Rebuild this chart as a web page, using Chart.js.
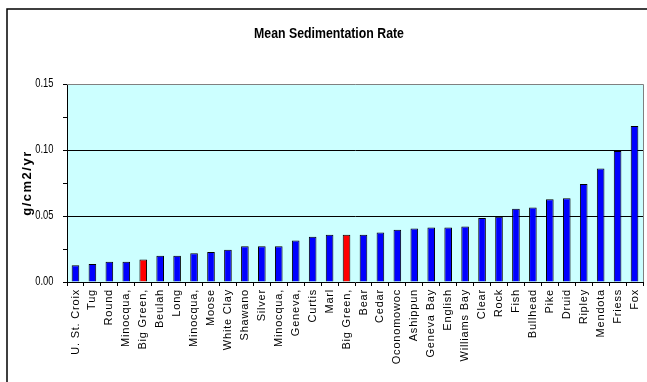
<!DOCTYPE html>
<html>
<head>
<meta charset="utf-8">
<script src="https://cdn.jsdelivr.net/npm/chart.js@4.4.1/dist/chart.umd.min.js"></script>
<style>
  html, body { margin: 0; padding: 0; background: #ffffff; }
  #wrap { width: 647px; height: 382px; }
</style>
</head>
<body>
<div id="wrap"><canvas id="chart" width="647" height="382"></canvas></div>
<script>
// Lakes, ordered by mean sedimentation rate
const lakes = [
  'U. St. Croix', 'Tug', 'Round', 'Minocqua,', 'Big Green,', 'Beulah', 'Long',
  'Minocqua,', 'Moose', 'White Clay', 'Shawano', 'Silver', 'Minocqua,', 'Geneva,',
  'Curtis', 'Marl', 'Big Green,', 'Bear', 'Cedar', 'Oconomowoc', 'Ashippun',
  'Geneva Bay', 'English', 'Williams Bay', 'Clear', 'Rock', 'Fish', 'Bullhead',
  'Pike', 'Druid', 'Ripley', 'Mendota', 'Friess', 'Fox'
];

// Mean sedimentation rate, g/cm2/yr
const meanRate = [
  0.0126, 0.0136, 0.0154, 0.0154, 0.0171, 0.0199, 0.0199,
  0.0217, 0.0227, 0.0244, 0.0270, 0.0270, 0.0270, 0.0315,
  0.0343, 0.0358, 0.0358, 0.0358, 0.0375, 0.0395, 0.0406,
  0.0413, 0.0413, 0.0421, 0.0484, 0.0494, 0.0554, 0.0564,
  0.0627, 0.0635, 0.0743, 0.0859, 0.0992, 0.1181
];

// Labelled y ticks (minor marks fall halfway between them)
const yLabelledTicks = [0, 0.05, 0.10, 0.15];

const chartTitle = 'Mean Sedimentation Rate';
const yAxisTitle = 'g/cm2/yr';
const highlightLake = 'Big Green,';

const BLUE = '#0000FF';
const RED = '#FF0000';
const barColors = lakes.map(name => name === highlightLake ? RED : BLUE);

const isLabelled = v => yLabelledTicks.some(t => Math.abs(t - v) < 1e-9);
const isInnerGrid = v => isLabelled(v) && v > 1e-9 && v < 0.15 - 1e-9;

// Frame, plot background, titles and condensed y tick labels
const framePlugin = {
  id: 'frame',
  beforeDraw(chart) {
    const { ctx, chartArea: a, width, height } = chart;
    ctx.save();
    ctx.fillStyle = '#ffffff';
    ctx.fillRect(0, 0, width, height);
    ctx.fillStyle = '#CCFFFF';
    ctx.fillRect(a.left, a.top, a.right - a.left, a.bottom - a.top);
    ctx.strokeStyle = '#000000';
    ctx.lineWidth = 1.5;
    ctx.beginPath();
    ctx.moveTo(7, height);
    ctx.lineTo(7, 9);
    ctx.lineTo(width, 9);
    ctx.stroke();
    ctx.restore();
    // slightly spaced category labels
    ctx.letterSpacing = '0.8px';
  },
  beforeDatasetsDraw(chart) {
    chart.ctx.letterSpacing = '0px';
  },
  afterDraw(chart) {
    const { ctx, chartArea: a } = chart;
    const yScale = chart.scales.y;
    ctx.save();
    ctx.letterSpacing = '0px';
    // plot border, top and right
    ctx.strokeStyle = '#808080';
    ctx.lineWidth = 1;
    ctx.beginPath();
    ctx.moveTo(a.left, Math.round(a.top) + 0.5);
    ctx.lineTo(Math.round(a.right) + 0.5, Math.round(a.top) + 0.5);
    ctx.lineTo(Math.round(a.right) + 0.5, a.bottom);
    ctx.stroke();

    ctx.fillStyle = '#000000';
    ctx.textBaseline = 'middle';

    // y tick labels, condensed
    ctx.font = "12px 'Liberation Sans', Arial, sans-serif";
    ctx.textAlign = 'right';
    yLabelledTicks.forEach(v => {
      ctx.save();
      ctx.translate(53.5, yScale.getPixelForValue(v));
      ctx.scale(0.78, 1);
      ctx.fillText(v.toFixed(2), 0, 0);
      ctx.restore();
    });

    // chart title
    ctx.save();
    ctx.font = "bold 14px 'Liberation Sans', Arial, sans-serif";
    ctx.textAlign = 'center';
    ctx.translate(329, 34);
    ctx.scale(0.88, 1);
    ctx.fillText(chartTitle, 0, 0);
    ctx.restore();

    // y-axis title
    ctx.translate(27, (a.top + a.bottom) / 2);
    ctx.rotate(-Math.PI / 2);
    ctx.font = "bold 13px 'Liberation Sans', Arial, sans-serif";
    ctx.textAlign = 'center';
    ctx.letterSpacing = '1.5px';
    ctx.fillText(yAxisTitle, 0, 0);
    ctx.restore();
  }
};

new Chart(document.getElementById('chart'), {
  type: 'bar',
  data: {
    labels: lakes,
    datasets: [{
      data: meanRate,
      backgroundColor: barColors,
      borderColor: '#000000',
      borderWidth: 1,
      categoryPercentage: 1.0,
      barPercentage: 0.45
    }]
  },
  options: {
    responsive: false,
    devicePixelRatio: 1,
    animation: false,
    layout: { padding: { top: 84, right: 4, bottom: 0, left: 0 } },
    plugins: {
      legend: { display: false },
      tooltip: { enabled: false },
      title: { display: false }
    },
    scales: {
      x: {
        grid: {
          display: true,
          drawOnChartArea: false,
          drawTicks: true,
          tickLength: 4,
          tickColor: '#000000',
          offset: true
        },
        border: { display: true, color: '#000000', width: 1 },
        ticks: {
          autoSkip: false,
          maxRotation: 90,
          minRotation: 90,
          padding: 3,
          color: '#000000',
          font: { family: "'Liberation Sans', Arial, sans-serif", size: 11 }
        },
        afterFit(scale) {
          scale.height = 100;
          scale.paddingLeft = 0;
          scale.paddingRight = 0;
        }
      },
      y: {
        min: 0,
        max: 0.15,
        grid: {
          drawTicks: true,
          tickLength: 4,
          tickColor: '#000000',
          color: ctx => (ctx.tick && isInnerGrid(ctx.tick.value)) ? '#000000' : 'rgba(0,0,0,0)',
          lineWidth: 1
        },
        border: { display: true, color: '#000000', width: 1 },
        ticks: {
          display: false,
          stepSize: 0.025
        },
        afterFit(scale) {
          scale.width = 67;
          scale.paddingTop = 0;
          scale.paddingBottom = 0;
        }
      }
    }
  },
  plugins: [framePlugin]
});
</script>
</body>
</html>
